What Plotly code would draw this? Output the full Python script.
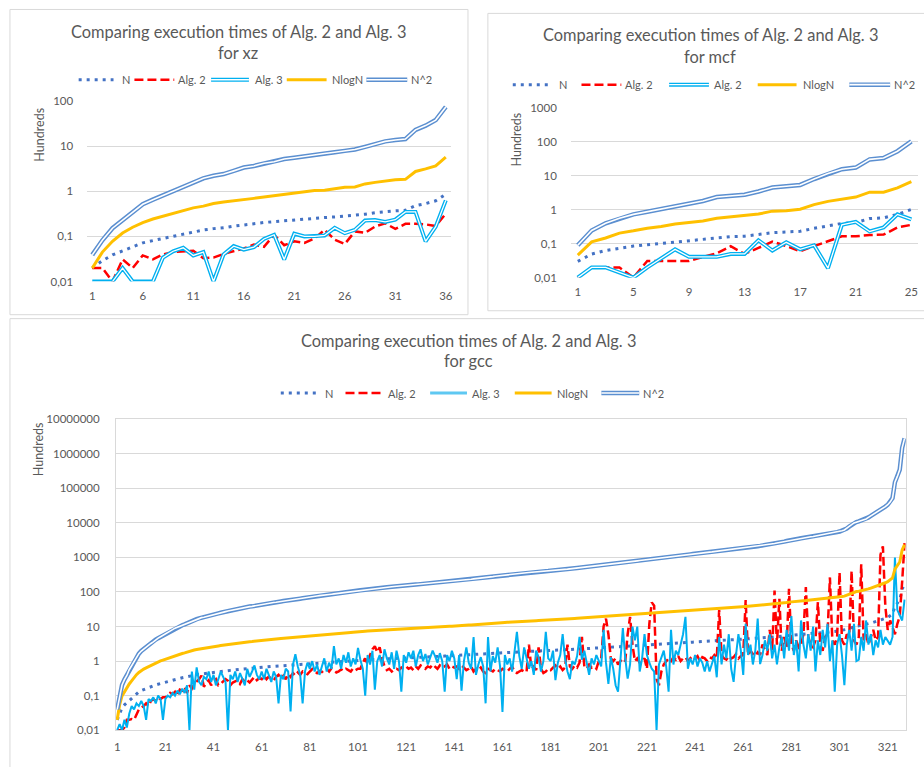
import plotly.graph_objects as go

FONT = "Lato, 'Open Sans', sans-serif"
GREY = "#595959"
GRID = "#D9D9D9"
C_N = "#4472C4"
C_ALG2 = "#FF0000"
C_ALG3 = "#00B0F0"
C_NLOGN = "#FFC000"
C_N2 = "#5B8FD0"

W, H = 924, 767

# ---------------- data: xz (values in hundreds) ----------------
XZ_CATEGORIES = list(range(1, 37))
XZ_N = [0.02, 0.029, 0.039, 0.048, 0.059, 0.072, 0.081, 0.09, 0.1, 0.113, 0.124, 0.139,
        0.149, 0.155, 0.169, 0.183, 0.191, 0.204, 0.213, 0.228, 0.236, 0.246, 0.254, 0.262,
        0.271, 0.281, 0.29, 0.31, 0.335, 0.358, 0.37, 0.38, 0.48, 0.535, 0.616, 0.86]
XZ_ALG2 = [0.02, 0.02, 0.01, 0.031, 0.02, 0.038, 0.031, 0.04, 0.045, 0.047, 0.048, 0.033,
           0.034, 0.041, 0.048, 0.054, 0.066, 0.059, 0.109, 0.064, 0.078, 0.072, 0.09, 0.14,
           0.085, 0.068, 0.129, 0.12, 0.166, 0.196, 0.147, 0.19, 0.19, 0.185, 0.17, 0.32]
XZ_ALG3 = [0.01, 0.01, 0.01, 0.02, 0.01, 0.01, 0.01, 0.034, 0.047, 0.056, 0.038, 0.045,
           0.01, 0.04, 0.061, 0.051, 0.058, 0.088, 0.109, 0.031, 0.115, 0.1, 0.1, 0.105,
           0.155, 0.118, 0.14, 0.225, 0.23, 0.21, 0.235, 0.35, 0.35, 0.078, 0.165, 0.63]
XZ_NLOGN = [0.0199, 0.045, 0.078, 0.119, 0.16, 0.203, 0.244, 0.283, 0.324, 0.37, 0.43, 0.47,
            0.535, 0.58, 0.61, 0.653, 0.698, 0.747, 0.8, 0.853, 0.912, 0.975, 1.04, 1.06,
            1.13, 1.23, 1.25, 1.46, 1.58, 1.69, 1.81, 1.84, 2.75, 3.14, 3.65, 5.74]
XZ_N2 = [0.039, 0.082, 0.152, 0.232, 0.352, 0.517, 0.653, 0.811, 0.99, 1.27, 1.53, 1.94,
         2.21, 2.41, 2.84, 3.36, 3.65, 4.18, 4.54, 5.19, 5.55, 6.03, 6.45, 6.89,
         7.37, 7.88, 8.43, 9.64, 11.2, 12.8, 13.7, 14.4, 23.0, 28.6, 37.9, 74.0]

# ---------------- data: mcf ----------------
MCF_CATEGORIES = list(range(1, 26))
MCF_N = [0.03, 0.0495, 0.063, 0.075, 0.085, 0.093, 0.102, 0.113, 0.123, 0.135, 0.154, 0.161,
         0.166, 0.186, 0.212, 0.222, 0.232, 0.284, 0.342, 0.396, 0.418, 0.552, 0.578, 0.729, 1.02]
MCF_ALG2 = [0.01, 0.02, 0.02, 0.02, 0.01, 0.031, 0.031, 0.031, 0.031, 0.041, 0.052, 0.084,
            0.05, 0.075, 0.115, 0.085, 0.06, 0.085, 0.12, 0.165, 0.165, 0.18, 0.185, 0.3, 0.36]
MCF_ALG3 = [0.01, 0.02, 0.02, 0.014, 0.01, 0.02, 0.036, 0.068, 0.041, 0.041, 0.041, 0.05,
            0.05, 0.126, 0.063, 0.11, 0.068, 0.09, 0.019, 0.36, 0.44, 0.23, 0.3, 0.73, 0.52]
MCF_NLOGN = [0.046, 0.113, 0.147, 0.205, 0.24, 0.287, 0.32, 0.383, 0.419, 0.468, 0.56, 0.624,
             0.682, 0.746, 0.91, 0.93, 1.04, 1.42, 1.77, 2.07, 2.37, 3.3, 3.3, 4.42, 6.73]
MCF_N2 = [0.09, 0.245, 0.40, 0.56, 0.73, 0.87, 1.04, 1.27, 1.52, 1.81, 2.37, 2.59,
          2.77, 3.46, 4.51, 4.93, 5.39, 8.04, 11.7, 15.7, 17.5, 30.5, 33.4, 53.2, 103.5]

# ---------------- data: gcc ----------------
GCC_N = [
    0.020, 0.032, 0.045, 0.054, 0.062, 0.075, 0.086, 0.10, 0.115, 0.128, 0.14, 0.15, 0.16, 0.17, 0.18, 0.19, 0.205, 0.215, 0.225, 0.235,
    0.245, 0.26, 0.27, 0.285, 0.30, 0.31, 0.32, 0.33, 0.34, 0.355, 0.37, 0.38, 0.395, 0.405, 0.415, 0.425, 0.43, 0.44, 0.45, 0.46,
    0.47, 0.48, 0.49, 0.50, 0.51, 0.52, 0.53, 0.54, 0.55, 0.56, 0.565, 0.575, 0.585, 0.60, 0.605, 0.615, 0.62, 0.63, 0.64, 0.65,
    0.66, 0.67, 0.68, 0.69, 0.70, 0.705, 0.71, 0.72, 0.73, 0.74, 0.745, 0.75, 0.76, 0.77, 0.78, 0.79, 0.80, 0.81, 0.82, 0.835,
    0.846, 0.855, 0.865, 0.875, 0.885, 0.89, 0.90, 0.91, 0.92, 0.93, 0.94, 0.95, 0.96, 0.97, 0.98, 0.99, 1.0, 1.01, 1.02, 1.04,
    1.05, 1.06, 1.07, 1.08, 1.09, 1.1, 1.11, 1.12, 1.13, 1.14, 1.15, 1.16, 1.17, 1.18, 1.19, 1.2, 1.21, 1.22, 1.23, 1.235,
    1.24, 1.25, 1.26, 1.27, 1.28, 1.29, 1.3, 1.31, 1.32, 1.33, 1.34, 1.35, 1.36, 1.37, 1.38, 1.39, 1.4, 1.41, 1.42, 1.425,
    1.43, 1.45, 1.47, 1.48, 1.5, 1.51, 1.52, 1.53, 1.55, 1.56, 1.57, 1.58, 1.6, 1.61, 1.63, 1.65, 1.67, 1.69, 1.71, 1.73,
    1.75, 1.76, 1.77, 1.79, 1.8, 1.82, 1.84, 1.85, 1.87, 1.88, 1.9, 1.91, 1.92, 1.94, 1.95, 1.96, 1.97, 1.98, 2.0, 2.01,
    2.02, 2.04, 2.06, 2.07, 2.09, 2.1, 2.12, 2.14, 2.16, 2.18, 2.2, 2.22, 2.24, 2.26, 2.28, 2.3, 2.32, 2.34, 2.36, 2.38,
    2.4, 2.42, 2.45, 2.47, 2.5, 2.52, 2.55, 2.57, 2.6, 2.62, 2.65, 2.68, 2.7, 2.73, 2.76, 2.79, 2.82, 2.85, 2.88, 2.92,
    2.95, 2.98, 3.0, 3.03, 3.06, 3.09, 3.12, 3.15, 3.18, 3.21, 3.24, 3.27, 3.3, 3.33, 3.36, 3.39, 3.42, 3.46, 3.5, 3.54,
    3.57, 3.6, 3.63, 3.67, 3.7, 3.74, 3.77, 3.8, 3.84, 3.87, 3.9, 3.94, 3.98, 4.02, 4.06, 4.1, 4.14, 4.18, 4.22, 4.26,
    4.3, 4.35, 4.4, 4.45, 4.5, 4.55, 4.6, 4.65, 4.7, 4.76, 4.82, 4.88, 4.95, 5.02, 5.1, 5.18, 5.26, 5.36, 5.46, 5.58,
    5.69, 5.75, 5.82, 5.9, 5.98, 6.05, 6.12, 6.2, 6.28, 6.36, 6.45, 6.54, 6.63, 6.72, 6.82, 6.92, 7.02, 7.12, 7.22, 7.35,
    7.5, 7.7, 7.9, 8.3, 8.8, 9.4, 10, 10.3, 10.5, 10.8, 11, 11.4, 12, 12.6, 13.2, 13.8, 14.5, 15.3, 16.2, 17.2,
    18.3, 20, 22.8, 38.7, 47, 59, 122, 167]
GCC_ALG2 = [
    0.01, 0.01, 0.01, 0.012, 0.02, 0.02, 0.021, 0.02, 0.03, 0.04, 0.045, 0.05, 0.06, 0.05, 0.07, 0.08, 0.07, 0.085, 0.08, 0.09,
    0.09, 0.1, 0.12, 0.11, 0.13, 0.1, 0.15, 0.14, 0.18, 0.12, 0.2, 0.16, 0.22, 0.25, 0.3, 0.38, 0.18, 0.24, 0.28, 0.2,
    0.26, 0.3, 0.2, 0.22, 0.25, 0.3, 0.27, 0.2, 0.24, 0.26, 0.28, 0.22, 0.3, 0.25, 0.28, 0.24, 0.3, 0.35, 0.28, 0.32,
    0.3, 0.38, 0.3, 0.36, 0.3, 0.28, 0.35, 0.4, 0.32, 0.38, 0.3, 0.42, 0.35, 0.45, 0.38, 0.47, 0.4, 0.5, 0.45, 0.42,
    0.5, 0.59, 0.5, 0.45, 0.52, 0.48, 0.55, 0.6, 0.5, 0.62, 0.55, 0.47, 0.5, 0.58, 0.52, 0.6, 0.55, 0.5, 0.62, 0.55,
    0.6, 0.6, 0.9, 1.2, 0.8, 1.5, 2.2, 2.7, 1.8, 2.5, 1.2, 0.7, 0.55, 0.6, 0.5, 0.58, 0.6, 0.55, 0.65, 0.6,
    0.7, 0.6, 0.65, 0.55, 0.7, 0.6, 0.75, 0.65, 0.6, 0.7, 0.65, 0.8, 0.7, 0.6, 0.75, 0.65, 0.7, 0.8, 0.6, 0.7,
    0.65, 0.7, 0.6, 0.75, 0.65, 0.55, 0.6, 0.7, 0.5, 0.6, 0.55, 0.65, 0.5, 0.45, 0.6, 0.55, 0.5, 0.6, 0.55, 0.5,
    0.6, 0.55, 0.5, 0.6, 0.7, 0.5, 0.45, 0.5, 0.55, 0.5, 0.48, 3, 0.6, 0.7, 0.55, 2.5, 0.6, 0.45, 0.5, 0.6,
    0.55, 0.65, 0.75, 0.6, 0.7, 0.55, 0.65, 3, 0.7, 0.6, 0.75, 0.65, 0.9, 5, 0.7, 0.6, 0.8, 0.65, 0.7, 0.6,
    1, 1.2, 10, 17, 6, 1.2, 1, 1.2, 0.8, 1, 1.2, 1, 6, 19, 3, 1, 1.2, 0.9, 1, 1.2,
    0.6, 12, 50, 40, 0.3, 0.2, 0.5, 0.8, 1, 1.2, 1, 1.3, 1.1, 1.4, 1, 1.2, 1.3, 1, 1.2, 1.4,
    1.2, 1.4, 1, 1.3, 1.2, 1, 1.3, 1.2, 1.5, 1.2, 30, 1.5, 1.2, 1.1, 1.4, 1.2, 1.3, 1.6, 1.2, 1.4,
    1.5, 58, 1.5, 2, 1.6, 1.4, 1.8, 1.5, 3, 2, 1.5, 8, 2, 110, 3, 64, 2, 5, 2.5, 123,
    3, 2, 4, 2.5, 3, 6, 138, 5, 3, 2.5, 4, 51, 3, 2, 5, 6, 264, 4, 3, 5,
    370, 4, 3, 6, 5, 410, 4, 3, 5, 630, 4, 6, 3, 5, 8, 4, 5, 1200, 2100, 40,
    8, 15, 10, 6, 12, 20, 200, 2600]
GCC_ALG3 = [
    0.01, 0.015, 0.01, 0.02, 0.012, 0.03, 0.05, 0.04, 0.06, 0.05, 0.07, 0.05, 0.02, 0.08, 0.07, 0.09, 0.06, 0.1, 0.08, 0.02,
    0.08, 0.1, 0.09, 0.12, 0.1, 0.14, 0.11, 0.16, 0.12, 0.2, 0.01, 0.5, 0.15, 0.66, 0.25, 0.2, 0.35, 0.3, 0.5, 0.25,
    0.4, 0.2, 0.3, 0.5, 0.35, 0.25, 0.01, 0.4, 0.3, 0.5, 0.25, 0.45, 0.3, 0.2, 0.6, 0.35, 0.5, 0.75, 0.4, 0.3,
    0.5, 0.3, 0.6, 0.4, 0.25, 0.5, 0.35, 0.06, 0.4, 0.3, 0.6, 0.5, 0.035, 0.8, 1.58, 0.7, 0.4, 0.06, 0.5, 0.9,
    0.6, 1, 0.5, 0.8, 0.4, 0.7, 1.2, 0.5, 0.9, 0.6, 2.7, 0.8, 1.2, 0.6, 1.5, 0.9, 1.8, 0.7, 1.2, 0.8,
    2.4, 1.1, 0.6, 0.1, 1.5, 0.8, 2, 0.15, 1, 1.5, 0.7, 2.2, 1.2, 0.8, 1.8, 0.6, 2, 1, 0.13, 1.5,
    0.9, 1.8, 1.2, 2, 0.7, 1.5, 2.2, 1, 1.6, 0.8, 1.2, 2, 1.4, 0.9, 1.7, 1, 0.13, 1.5, 1, 2,
    1.2, 0.3, 1.5, 0.14, 1, 2.5, 0.9, 0.6, 5, 0.4, 0.8, 1.3, 0.7, 0.06, 5, 0.5, 1.4, 0.9, 2.5, 0.7,
    0.034, 1.5, 0.8, 1.2, 0.5, 2, 7, 1.4, 0.6, 2.5, 1.2, 0.6, 1, 0.4, 2, 1.3, 0.5, 1, 7, 1.2,
    1, 2, 0.28, 0.9, 1.5, 6, 1.2, 0.5, 0.3, 1, 0.8, 1.4, 5, 1.1, 2, 0.9, 0.4, 1.2, 0.8, 1.5,
    1, 0.7, 8, 0.9, 0.22, 1.3, 0.6, 0.2, 0.13, 1, 9, 1.2, 0.31, 0.8, 10, 4, 10, 0.5, 1.2, 6,
    1.5, 0.9, 0.6, 0.5, 0.01, 0.8, 1.2, 2, 0.7, 0.13, 8, 0.8, 2, 1.5, 3, 6, 19, 0.6, 1.2, 0.8,
    1.5, 0.7, 1.2, 0.9, 0.5, 1, 0.5, 0.8, 1.4, 0.34, 5, 0.8, 3, 1.2, 6, 0.6, 0.25, 1.5, 6, 2,
    0.4, 12, 1.5, 3, 0.8, 2, 17, 0.82, 1.5, 4, 2, 6, 1.2, 3, 0.8, 2.5, 5, 1.2, 8, 2,
    20, 1.5, 4, 0.5, 15, 3, 1.2, 6, 2, 10, 0.5, 4, 1.5, 8, 2.5, 12, 1, 4, 0.13, 3,
    6, 1.5, 0.2, 3, 8, 2, 12, 1, 1.1, 5, 2, 15, 3, 6, 1.5, 4, 2.5, 8, 3, 5,
    4, 3, 5, 1000, 30, 20, 15, 60]
GCC_NLOGN = [
    0.02, 0.054, 0.098, 0.131, 0.163, 0.218, 0.267, 0.332, 0.405, 0.471, 0.533, 0.586, 0.64, 0.695, 0.75, 0.807, 0.894, 0.952, 1.01, 1.07,
    1.13, 1.22, 1.28, 1.38, 1.47, 1.53, 1.6, 1.66, 1.73, 1.83, 1.93, 1.99, 2.09, 2.16, 2.23, 2.3, 2.33, 2.4, 2.47, 2.54,
    2.61, 2.68, 2.75, 2.82, 2.89, 2.96, 3.04, 3.11, 3.18, 3.25, 3.29, 3.36, 3.43, 3.54, 3.58, 3.65, 3.69, 3.77, 3.84, 3.91,
    3.99, 4.06, 4.14, 4.21, 4.29, 4.33, 4.37, 4.44, 4.52, 4.59, 4.63, 4.67, 4.75, 4.83, 4.9, 4.98, 5.06, 5.14, 5.21, 5.33,
    5.41, 5.49, 5.56, 5.64, 5.72, 5.76, 5.84, 5.92, 6.0, 6.08, 6.16, 6.24, 6.32, 6.4, 6.48, 6.56, 6.64, 6.72, 6.81, 6.97,
    7.05, 7.13, 7.22, 7.3, 7.38, 7.46, 7.54, 7.62, 7.71, 7.79, 7.87, 7.96, 8.04, 8.12, 8.2, 8.29, 8.37, 8.46, 8.54, 8.58,
    8.62, 8.71, 8.79, 8.88, 8.96, 9.04, 9.13, 9.21, 9.3, 9.38, 9.47, 9.55, 9.64, 9.72, 9.81, 9.9, 9.98, 10.07, 10.15, 10.2,
    10.24, 10.41, 10.58, 10.67, 10.85, 10.93, 11.02, 11.11, 11.28, 11.36, 11.45, 11.54, 11.72, 11.8, 11.98, 12.15, 12.33, 12.51, 12.68, 12.86,
    13.04, 13.13, 13.22, 13.4, 13.49, 13.66, 13.84, 13.93, 14.11, 14.2, 14.38, 14.47, 14.56, 14.74, 14.83, 14.93, 15.02, 15.11, 15.29, 15.38,
    15.47, 15.65, 15.83, 15.92, 16.11, 16.2, 16.38, 16.57, 16.75, 16.93, 17.12, 17.3, 17.49, 17.67, 17.86, 18.04, 18.23, 18.42, 18.6, 18.79,
    18.98, 19.16, 19.45, 19.63, 19.91, 20.1, 20.39, 20.57, 20.86, 21.05, 21.33, 21.62, 21.81, 22.09, 22.38, 22.67, 22.95, 23.24, 23.53, 23.91,
    24.2, 24.5, 24.69, 24.98, 25.27, 25.56, 25.85, 26.14, 26.43, 26.73, 27.02, 27.31, 27.61, 27.9, 28.2, 28.49, 28.79, 29.18, 29.58, 29.98,
    30.27, 30.57, 30.87, 31.27, 31.57, 31.96, 32.26, 32.56, 32.97, 33.27, 33.57, 33.97, 34.37, 34.78, 35.18, 35.59, 35.99, 36.4, 36.8, 37.21,
    37.62, 38.13, 38.64, 39.15, 39.66, 40.18, 40.69, 41.2, 41.72, 42.34, 42.96, 43.58, 44.31, 45.04, 45.87, 46.7, 47.54, 48.59, 49.65, 50.91,
    52.08, 52.71, 53.45, 54.31, 55.16, 55.91, 56.66, 57.51, 58.37, 59.23, 60.2, 61.17, 62.14, 63.12, 64.2, 65.29, 66.38, 67.47, 68.56, 69.99,
    71.63, 73.84, 76.05, 80.49, 86.07, 92.84, 99.66, 103.1, 105.4, 108.8, 111.1, 115.8, 122.7, 129.8, 136.8, 143.9, 152.3, 161.9, 172.7, 184.9,
    198.3, 219.3, 254.3, 461.2, 573.3, 739, 1656, 2343]
GCC_N2 = [
    0.04, 0.102, 0.203, 0.292, 0.384, 0.563, 0.74, 1.0, 1.32, 1.64, 1.96, 2.25, 2.56, 2.89, 3.24, 3.61, 4.2, 4.62, 5.06, 5.52,
    6.0, 6.76, 7.29, 8.12, 9.0, 9.61, 10.2, 10.9, 11.6, 12.6, 13.7, 14.4, 15.6, 16.4, 17.2, 18.1, 18.5, 19.4, 20.3, 21.2,
    22.1, 23.0, 24.0, 25.0, 26.0, 27.0, 28.1, 29.2, 30.3, 31.4, 31.9, 33.1, 34.2, 36.0, 36.6, 37.8, 38.4, 39.7, 41.0, 42.3,
    43.6, 44.9, 46.2, 47.6, 49.0, 49.7, 50.4, 51.8, 53.3, 54.8, 55.5, 56.3, 57.8, 59.3, 60.8, 62.4, 64.0, 65.6, 67.2, 69.7,
    71.6, 73.1, 74.8, 76.6, 78.3, 79.2, 81.0, 82.8, 84.6, 86.5, 88.4, 90.3, 92.2, 94.1, 96.0, 98.0, 100, 102, 104, 108,
    110, 112, 114, 117, 119, 121, 123, 125, 128, 130, 132, 135, 137, 139, 142, 144, 146, 149, 151, 153,
    154, 156, 159, 161, 164, 166, 169, 172, 174, 177, 180, 182, 185, 188, 190, 193, 196, 199, 202, 203,
    204, 210, 216, 219, 225, 228, 231, 234, 240, 243, 246, 250, 256, 259, 266, 272, 279, 286, 292, 299,
    306, 310, 313, 320, 324, 331, 339, 342, 350, 353, 361, 365, 369, 376, 380, 384, 388, 392, 400, 404,
    408, 416, 424, 428, 437, 441, 449, 458, 467, 475, 484, 493, 502, 511, 520, 529, 538, 548, 557, 566,
    576, 586, 600, 610, 625, 635, 650, 660, 676, 686, 702, 718, 729, 745, 762, 778, 795, 812, 829, 853,
    870, 888, 900, 918, 936, 955, 973, 992, 1011, 1030, 1050, 1069, 1089, 1109, 1129, 1149, 1170, 1197, 1225, 1253,
    1274, 1296, 1318, 1347, 1369, 1399, 1421, 1444, 1475, 1498, 1521, 1552, 1584, 1616, 1648, 1681, 1714, 1747, 1781, 1815,
    1849, 1892, 1936, 1980, 2025, 2070, 2116, 2162, 2209, 2266, 2323, 2381, 2450, 2520, 2601, 2683, 2767, 2873, 2981, 3114,
    3238, 3306, 3387, 3481, 3576, 3660, 3745, 3844, 3944, 4045, 4160, 4277, 4396, 4516, 4651, 4789, 4928, 5069, 5213, 5402,
    5625, 5929, 6241, 6889, 7744, 8836, 10000, 10609, 11025, 11664, 12100, 12996, 14400, 15876, 17424, 19044, 21025, 23409, 26244, 29584,
    33489, 40000, 51984, 149769, 220900, 348100, 1488400, 2788900]
GCC_CATEGORIES = list(range(1, len(GCC_N) + 1))

TITLE = "Comparing execution times of Alg. 2 and Alg. 3"
XZ_TICKS = [1, 6, 11, 16, 21, 26, 31, 36]
MCF_TICKS = [1, 5, 9, 13, 17, 21, 25]
GCC_TICKS = list(range(1, 322, 20))


def fx(p):
    return p / W


def fy(p):
    return 1 - p / H


fig = go.Figure()


def add_series(xs, ys, xa, ya, kind, alg3_solid=False):
    common = dict(x=xs, y=ys, mode="lines", xaxis=xa, yaxis=ya, hoverinfo="skip", showlegend=False)
    if kind == "N":
        fig.add_trace(go.Scatter(line=dict(color=C_N, width=3, dash="3px,5px"), **common))
    elif kind == "ALG2":
        fig.add_trace(go.Scatter(line=dict(color=C_ALG2, width=2.5, dash="9px,4px"), **common))
    elif kind == "ALG3":
        if alg3_solid:
            fig.add_trace(go.Scatter(line=dict(color=C_ALG3, width=2), **common))
        else:
            fig.add_trace(go.Scatter(line=dict(color=C_ALG3, width=4), **common))
            fig.add_trace(go.Scatter(line=dict(color="white", width=1.3), **common))
    elif kind == "NLOGN":
        fig.add_trace(go.Scatter(line=dict(color=C_NLOGN, width=3), **common))
    elif kind == "N2":
        fig.add_trace(go.Scatter(line=dict(color=C_N2, width=4.5), **common))
        fig.add_trace(go.Scatter(line=dict(color="white", width=1.6), **common))


# chart 1 : xz
for kind, ys in [("N", XZ_N), ("ALG2", XZ_ALG2), ("ALG3", XZ_ALG3), ("NLOGN", XZ_NLOGN), ("N2", XZ_N2)]:
    add_series(XZ_CATEGORIES, ys, "x", "y", kind)
# chart 2 : mcf
for kind, ys in [("N", MCF_N), ("ALG2", MCF_ALG2), ("ALG3", MCF_ALG3), ("NLOGN", MCF_NLOGN), ("N2", MCF_N2)]:
    add_series(MCF_CATEGORIES, ys, "x2", "y2", kind)
# chart 3 : gcc
for kind, ys in [("N", GCC_N), ("ALG2", GCC_ALG2), ("ALG3", GCC_ALG3), ("NLOGN", GCC_NLOGN), ("N2", GCC_N2)]:
    add_series(GCC_CATEGORIES, ys, "x3", "y3", kind, alg3_solid=True)

tickfont = dict(family=FONT, size=11.5, color=GREY)


def yaxis(dom, rng, vals, anchor, border=False):
    texts = [("%g" % v).replace(".", ",") if v < 1 else str(int(v)) for v in vals]
    return dict(type="log", range=rng, domain=dom, anchor=anchor, tickmode="array",
                tickvals=vals, ticktext=texts, showgrid=True, gridcolor=GRID, gridwidth=1,
                zeroline=False, showline=border, mirror=border, linecolor=GRID, ticks="",
                tickfont=tickfont, ticklabelstandoff=13, fixedrange=True)


def xaxis(dom, n, vals, anchor, border=False):
    return dict(type="linear", range=[0.5, n + 0.5], domain=dom, anchor=anchor, tickmode="array",
                tickvals=vals, ticktext=[str(v) for v in vals], showgrid=False, zeroline=False,
                showline=border, mirror=border, linecolor=GRID, ticks="", tickfont=tickfont,
                ticklabelstandoff=6, fixedrange=True)


fig.update_layout(
    width=W, height=H, margin=dict(l=0, r=0, t=0, b=0),
    paper_bgcolor="white", plot_bgcolor="white", showlegend=False,
    font=dict(family=FONT, color=GREY),
    xaxis=xaxis([fx(85.6), fx(450.8)], 36, XZ_TICKS, "y"),
    yaxis=yaxis([fy(279.3), fy(95.7)], [-2, 2], [0.01, 0.1, 1, 10, 100], "x"),
    xaxis2=xaxis([fx(571.3), fx(920.3)], 25, MCF_TICKS, "y2"),
    yaxis2=yaxis([fy(275.3), fy(102.7)], [-2, 3], [0.01, 0.1, 1, 10, 100, 1000], "x2"),
    xaxis3=xaxis([fx(114.5), fx(907.7)], len(GCC_N), GCC_TICKS, "y3", border=True),
    yaxis3=yaxis([fy(735.7), fy(419.3)], [-2, 7],
                 [0.01, 0.1, 1, 10, 100, 1000, 10000, 100000, 1000000, 10000000], "x3", border=True),
)

shapes = []
annotations = []

# chart frames
for x0, y0, x1, y1 in [(8, 2.5, 468, 313), (488, 6.5, 935, 309), (8, 317, 935, 780)]:
    shapes.append(dict(type="rect", xref="paper", yref="paper", x0=fx(x0), y0=fy(y1), x1=fx(x1), y1=fy(y0),
                       line=dict(color=GRID, width=1), fillcolor="rgba(0,0,0,0)", layer="below"))

# titles
for cx, y1, y2, sub in [(237.5, 25, 46, "for xz"), (711.5, 28, 50, "for mcf"), (469, 339, 360, "for gcc")]:
    for yy, txt in [(y1, TITLE), (y2, sub)]:
        annotations.append(dict(text=txt, x=fx(cx), y=fy(yy), xref="paper", yref="paper", showarrow=False,
                                xanchor="center", yanchor="middle", font=dict(family=FONT, size=16.4, color=GREY)))

# axis titles
for cx, cy in [(38, 130), (517, 135), (37, 450)]:
    annotations.append(dict(text="Hundreds", x=fx(cx), y=fy(cy), xref="paper", yref="paper", showarrow=False,
                            textangle=-90, xanchor="center", yanchor="middle", font=dict(family=FONT, size=12.5, color=GREY)))


def legend_line(x0, x1, y, kind, solid_alg3=False):
    def seg(color, width, dash=None):
        ln = dict(color=color, width=width)
        if dash:
            ln["dash"] = dash
        shapes.append(dict(type="line", xref="paper", yref="paper", x0=fx(x0), x1=fx(x1), y0=fy(y), y1=fy(y), line=ln))
    if kind == "N":
        seg(C_N, 3, "3px,5px")
    elif kind == "ALG2":
        seg(C_ALG2, 2.5, "9px,4px")
    elif kind == "ALG3":
        if solid_alg3:
            seg("#5EC8F2", 3)
        else:
            seg(C_ALG3, 4)
            seg("white", 1.3)
    elif kind == "NLOGN":
        seg(C_NLOGN, 3)
    elif kind == "N2":
        seg(C_N2, 4.5)
        seg("white", 1.6)


LEGENDS = [
    (74, False, [("N", 77, 112, 119, "N"), ("ALG2", 133, 173, 175, "Alg. 2"), ("ALG3", 210, 248, 252, "Alg. 3"),
                 ("NLOGN", 286, 326, 329, "NlogN"), ("N2", 366, 407, 409, "N^2")]),
    (79, False, [("N", 513, 552, 557, "N"), ("ALG2", 582, 622, 624, "Alg. 2"), ("ALG3", 670, 710, 713, "Alg. 2"),
                 ("NLOGN", 759, 798, 802, "NlogN"), ("N2", 851, 892, 894, "N^2")]),
    (392.7, True, [("N", 280, 317, 322, "N"), ("ALG2", 345, 383, 386, "Alg. 2"), ("ALG3", 430, 467, 470, "Alg. 3"),
                   ("NLOGN", 515, 552, 555, "NlogN"), ("N2", 602, 640, 642, "N^2")]),
]
for y, solid, items in LEGENDS:
    for kind, x0, x1, tx, label in items:
        legend_line(x0, x1, y, kind, solid)
        annotations.append(dict(text=label, x=fx(tx), y=fy(y), xref="paper", yref="paper", showarrow=False,
                                xanchor="left", yanchor="middle", font=dict(family=FONT, size=11, color=GREY)))

fig.update_layout(shapes=shapes, annotations=annotations)
fig.write_html("out.html", config={"displayModeBar": False},
               post_script="document.body.style.margin='0';document.body.style.padding='0';")
